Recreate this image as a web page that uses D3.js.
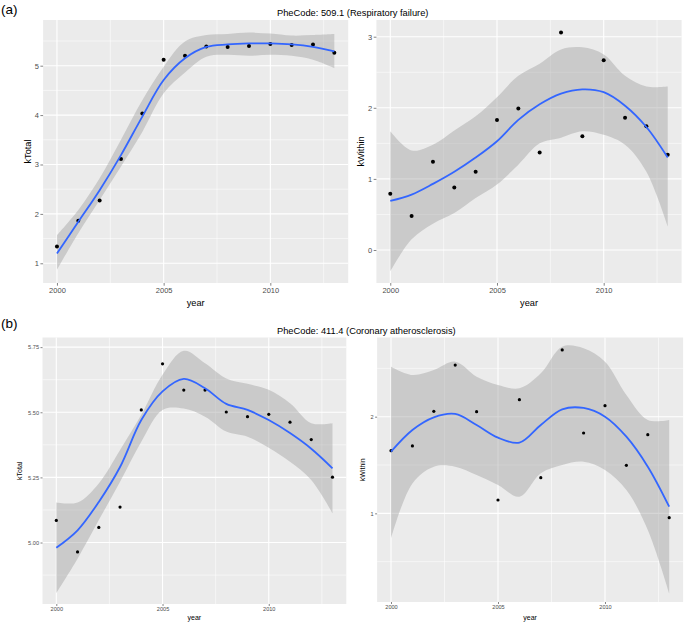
<!DOCTYPE html>
<html><head><meta charset="utf-8">
<script src="https://cdn.jsdelivr.net/npm/d3@7"></script>
<style>body{margin:0;background:#fff}svg{display:block;font-family:"Liberation Sans",Arial,sans-serif}</style>
</head><body><svg id="c" width="685" height="624"></svg>
<script>
const years = [2000,2001,2002,2003,2004,2005,2006,2007,2008,2009,2010,2011,2012,2013];
const xTicks = [2000,2005,2010];

// (a) PheCode 509.1 — kTotal
const aTotalObs = [1.34,1.86,2.27,3.11,4.03,5.12,5.20,5.39,5.38,5.40,5.44,5.42,5.43,5.26];
const aTotalFit = [1.20,1.84,2.48,3.19,3.97,4.71,5.15,5.38,5.43,5.45,5.45,5.43,5.38,5.29];
const aTotalLo  = [0.87,1.61,2.28,2.96,3.66,4.44,4.86,5.18,5.22,5.20,5.22,5.20,5.12,4.95];
const aTotalHi  = [1.57,2.08,2.72,3.50,4.30,4.98,5.49,5.62,5.64,5.67,5.65,5.61,5.62,5.64];
const aTotalTicks = [1,2,3,4,5];
// (a) kWithin
const aWithinObs = [0.79,0.48,1.24,0.88,1.10,1.83,1.99,1.37,3.06,1.60,2.67,1.86,1.74,1.34];
const aWithinFit = [0.69,0.78,0.93,1.10,1.30,1.53,1.83,2.05,2.20,2.26,2.22,2.03,1.73,1.30];
const aWithinLo  = [-0.30,0.15,0.37,0.52,0.73,0.92,1.20,1.50,1.58,1.67,1.62,1.48,1.10,0.33];
const aWithinHi  = [1.67,1.40,1.48,1.68,1.88,2.15,2.45,2.62,2.82,2.85,2.75,2.45,2.30,2.30];
const aWithinTicks = [0,1,2,3];
// (b) PheCode 411.4 — kTotal
const bTotalObs = [5.085,4.964,5.058,5.136,5.509,5.686,5.585,5.585,5.501,5.483,5.492,5.462,5.395,5.251];
const bTotalFit = [4.980,5.047,5.156,5.290,5.470,5.580,5.628,5.592,5.532,5.509,5.470,5.420,5.360,5.285];
const bTotalLo  = [4.806,4.938,5.086,5.233,5.387,5.509,5.514,5.483,5.426,5.406,5.364,5.310,5.240,5.112];
const bTotalHi  = [5.154,5.154,5.227,5.355,5.490,5.644,5.736,5.688,5.630,5.609,5.586,5.535,5.458,5.458];
const bTotalTicks = [5.00,5.25,5.50,5.75];
// (b) kWithin
const bWithinObs = [1.648,1.697,2.055,2.534,2.052,1.138,2.176,1.369,2.690,1.831,2.114,1.497,1.814,0.955];
const bWithinFit = [1.638,1.862,1.993,2.028,1.914,1.783,1.731,1.914,2.076,2.090,2.000,1.793,1.483,1.069];
const bWithinLo  = [0.741,1.310,1.483,1.483,1.397,1.293,1.172,1.414,1.500,1.534,1.448,1.241,0.828,0.172];
const bWithinHi  = [2.517,2.431,2.483,2.569,2.414,2.328,2.293,2.448,2.724,2.707,2.569,2.224,1.966,1.966];
const bWithinTicks = [1,2];

const svg = d3.select("#c");

function panel(o){
  const x = d3.scaleLinear().domain([1999.35,2013.65]).range([o.x0,o.x1]);
  const y = d3.scaleLinear().domain(o.yDom).range([o.y1,o.y0]);
  const g = svg.append("g");
  g.append("rect").attr("x",o.x0).attr("y",o.y0).attr("width",o.x1-o.x0).attr("height",o.y1-o.y0).attr("fill","#EBEBEB");
  const xMinor = [2002.5,2007.5,2012.5];
  g.selectAll(null).data(xMinor).join("line").attr("x1",d=>x(d)).attr("x2",d=>x(d)).attr("y1",o.y0).attr("y2",o.y1).attr("stroke","#fff").attr("stroke-width",0.55);
  g.selectAll(null).data(o.yMinor).join("line").attr("y1",d=>y(d)).attr("y2",d=>y(d)).attr("x1",o.x0).attr("x2",o.x1).attr("stroke","#fff").attr("stroke-width",0.55);
  g.selectAll(null).data(xTicks).join("line").attr("x1",d=>x(d)).attr("x2",d=>x(d)).attr("y1",o.y0).attr("y2",o.y1).attr("stroke","#fff").attr("stroke-width",1.1);
  g.selectAll(null).data(o.yTicks).join("line").attr("y1",d=>y(d)).attr("y2",d=>y(d)).attr("x1",o.x0).attr("x2",o.x1).attr("stroke","#fff").attr("stroke-width",1.1);
  const curve = d3.curveCatmullRom.alpha(0.5);
  const area = d3.area().x((d,i)=>x(years[i])).y0((d,i)=>y(o.lo[i])).y1((d,i)=>y(o.hi[i])).curve(curve);
  g.append("path").attr("d",area(years)).attr("fill","#999999").attr("fill-opacity",0.4);
  g.append("g").selectAll("circle").data(o.obs).join("circle")
    .attr("cx",(d,i)=>x(years[i])).attr("cy",d=>y(d)).attr("r",o.r).attr("fill","#000");
  const line = d3.line().x((d,i)=>x(years[i])).y(d=>y(d)).curve(curve);
  g.append("path").attr("d",line(o.fit)).attr("fill","none").attr("stroke","#3366FF").attr("stroke-width",o.lw);
  const xa = d3.axisBottom(x).tickValues(xTicks).tickSize(o.tick).tickPadding(1.5).tickFormat(d3.format("d"));
  const ya = d3.axisLeft(y).tickValues(o.yTicks).tickSize(o.tick).tickPadding(1.5).tickFormat(o.fmt);
  const gx = g.append("g").attr("transform",`translate(0,${o.y1})`).call(xa);
  const gy = g.append("g").attr("transform",`translate(${o.x0},0)`).call(ya);
  [gx,gy].forEach(a=>{
    a.select(".domain").remove();
    a.selectAll(".tick line").attr("stroke","#333").attr("stroke-width",0.6);
    a.selectAll(".tick text").attr("fill","#4D4D4D").style("font-size",o.tfs+"px").style("font-family","Liberation Sans, Arial, sans-serif");
  });
  g.append("text").attr("x",(o.x0+o.x1)/2).attr("y",o.xtY).attr("text-anchor","middle").style("font-size",o.afs+"px").attr("fill","#000").text("year");
  g.append("text").attr("transform",`translate(${o.ytX},${(o.y0+o.y1)/2}) rotate(-90)`).attr("text-anchor","middle").style("font-size",o.afs+"px").attr("fill","#000").text(o.ylab);
}

const fA = d3.format("d");
panel({x0:43.1,x1:348.2,y0:20,y1:283,yDom:[0.601,5.925],yTicks:aTotalTicks,yMinor:[1.5,2.5,3.5,4.5,5.5],
  obs:aTotalObs,fit:aTotalFit,lo:aTotalLo,hi:aTotalHi,r:2,lw:1.8,tick:2.7,tfs:7.5,afs:9.2,xtY:306,ytX:31,ylab:"kTotal",fmt:fA});
panel({x0:376.4,x1:681.6,y0:20,y1:283,yDom:[-0.464,3.235],yTicks:aWithinTicks,yMinor:[0.5,1.5,2.5],
  obs:aWithinObs,fit:aWithinFit,lo:aWithinLo,hi:aWithinHi,r:2,lw:1.8,tick:2.7,tfs:7.5,afs:9.2,xtY:306,ytX:364,ylab:"kWithin",fmt:fA});
panel({x0:42.5,x1:346.3,y0:337.5,y1:604,yDom:[4.764,5.787],yTicks:bTotalTicks,yMinor:[4.875,5.125,5.375,5.625],
  obs:bTotalObs,fit:bTotalFit,lo:bTotalLo,hi:bTotalHi,r:1.6,lw:1.8,tick:2,tfs:5.6,afs:7,xtY:620,ytX:22,ylab:"kTotal",fmt:d3.format(".2f")});
panel({x0:377.1,x1:683.1,y0:337.5,y1:602,yDom:[0.083,2.819],yTicks:bWithinTicks,yMinor:[0.5,1.5,2.5],
  obs:bWithinObs,fit:bWithinFit,lo:bWithinLo,hi:bWithinHi,r:1.6,lw:1.8,tick:2,tfs:5.6,afs:7,xtY:620,ytX:365,ylab:"kWithin",fmt:fA});

svg.append("text").attr("x",277).attr("y",16).attr("text-anchor","start").style("font-size","9.3px").text("PheCode: 509.1 (Respiratory failure)");
svg.append("text").attr("x",277).attr("y",333.5).attr("text-anchor","start").style("font-size","9.3px").text("PheCode: 411.4 (Coronary atherosclerosis)");
svg.append("text").attr("x",1).attr("y",14).style("font-size","13.5px").text("(a)");
svg.append("text").attr("x",1).attr("y",328).style("font-size","13.5px").text("(b)");
</script></body></html>
